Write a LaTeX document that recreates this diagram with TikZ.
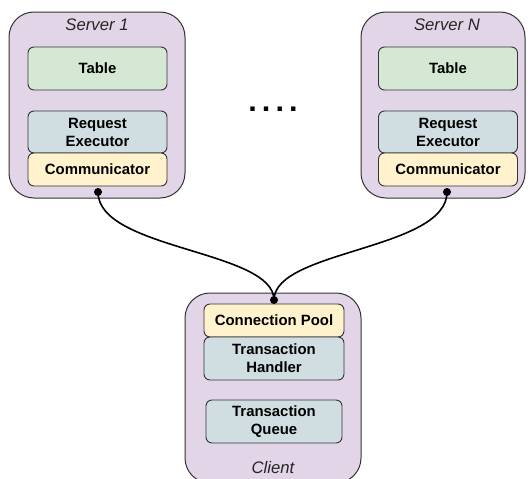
\documentclass[tikz,border=0pt]{standalone}
\usepackage{fontspec}
\setmainfont{Liberation Sans}
\definecolor{outerfill}{HTML}{E1D5E7}
\definecolor{greenfill}{HTML}{D5E8D4}
\definecolor{bluefill}{HTML}{D0DEE2}
\definecolor{yellowfill}{HTML}{FFF2CC}
\definecolor{strk}{HTML}{333333}
\begin{document}
\begin{tikzpicture}[x=1pt,y=-1pt,
  outerbox/.style={draw=strk, fill=outerfill, line width=1pt, rounded corners=25pt},
  innerbox/.style={draw=strk, line width=0.9pt, rounded corners=6pt, inner sep=0pt, align=center,
    font=\fontsize{14.9}{18}\selectfont\bfseries},
  gbox/.style={innerbox, fill=greenfill},
  bbox/.style={innerbox, fill=bluefill},
  ybox/.style={innerbox, fill=yellowfill},
  lbl/.style={font=\fontsize{16.7}{20}\selectfont\itshape, inner sep=0pt, text=black!85},
  wire/.style={line width=1.6pt, black},
  dotnode/.style={circle, fill=black, inner sep=0pt, minimum size=8pt}]
\useasboundingbox (0,0) rectangle (528,479);
\clip (0,0) rectangle (528,479);
% Server 1
\draw[outerbox] (9,12) rectangle (185,198);
\node[lbl] (s1lbl) at (97,25) {Server 1};
\node[gbox, minimum width=139pt, minimum height=43pt] (t1) at (97.5,68.5) {Table};
\node[bbox, minimum width=139pt, minimum height=42pt] (r1) at (97.5,132) {Request\\Executor};
\node[ybox, minimum width=139pt, minimum height=33pt] (c1) at (97.5,169.5) {Communicator};
% Server N
\draw[outerbox] (361,12) rectangle (525,198);
\node[lbl] (snlbl) at (447,25) {Server N};
\node[gbox, minimum width=139pt, minimum height=43pt] (tn) at (448,68.5) {Table};
\node[bbox, minimum width=139pt, minimum height=42pt] (rn) at (448,132) {Request\\Executor};
\node[ybox, minimum width=139pt, minimum height=33pt] (cn) at (448,169.5) {Communicator};
% dots
\node[anchor=base, inner sep=0pt, font=\fontsize{30.6}{30}\selectfont\bfseries] (ell) at (273,111) {.\,.\,.\,.};
% Client
\draw[outerbox] (185,293) rectangle (361,483);
\node[lbl] (clbl) at (273,468) {Client};
\node[ybox, minimum width=140pt, minimum height=33pt] (cp) at (274,320.5) {Connection Pool};
\node[bbox, minimum width=140pt, minimum height=43pt] (th) at (274,358.5) {Transaction\\Handler};
\node[bbox, minimum width=136pt, minimum height=43pt] (tq) at (274,421.5) {Transaction\\Queue};
% connectors
\node[dotnode] (d1) at (98,192) {};
\node[dotnode] (dn) at (447,192) {};
\node[dotnode] (dc) at (274,300) {};
\draw[wire] (d1.center) .. controls (98,250) and (274,250) .. (dc.center);
\draw[wire] (dn.center) .. controls (447,250) and (274,250) .. (dc.center);
\end{tikzpicture}
\end{document}
